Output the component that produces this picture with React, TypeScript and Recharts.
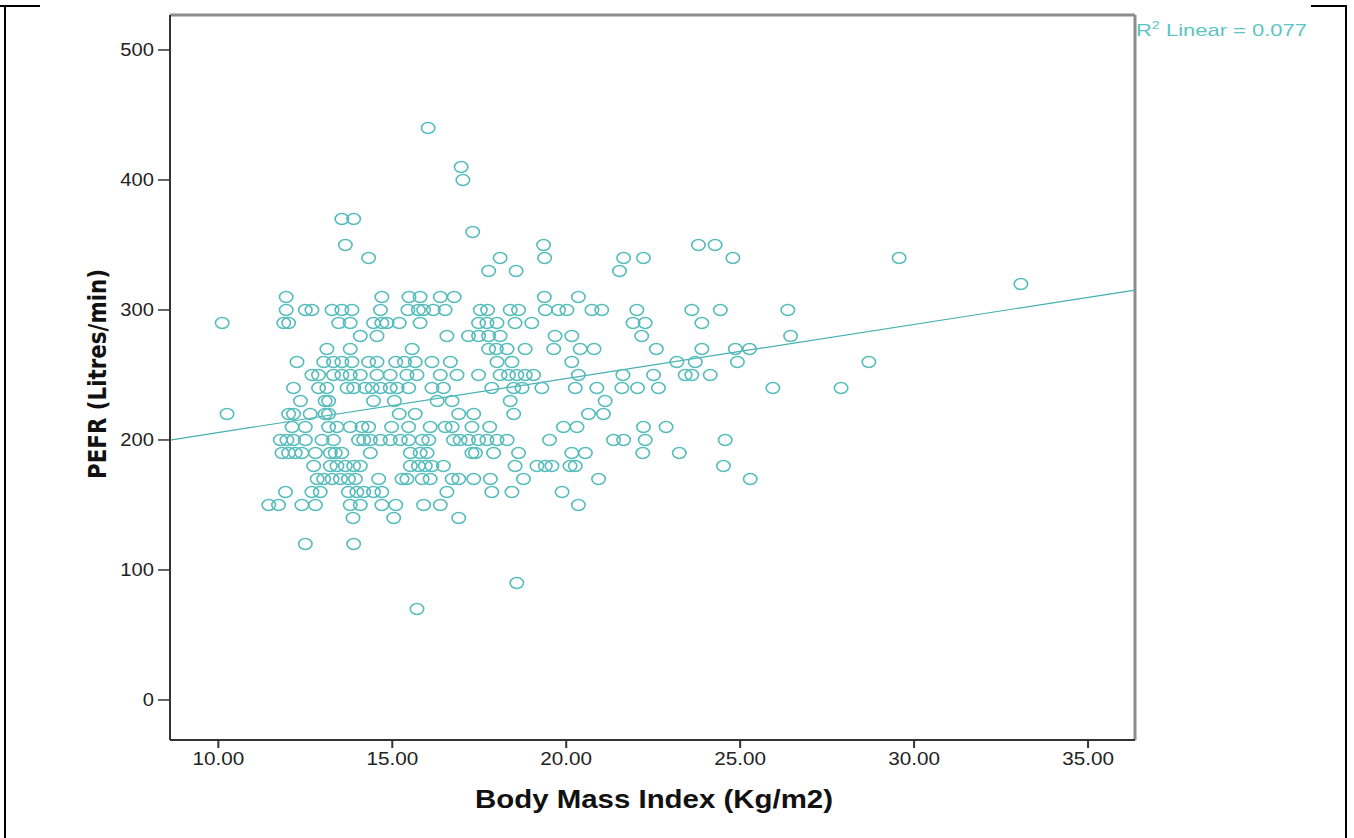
import { ScatterChart, Scatter, XAxis, YAxis, ReferenceLine } from 'recharts';

// PEFR rows (Litres/min) and the BMI readings found on each row
const bmi440 = [16.03];
const bmi410 = [16.98];
const bmi400 = [17.03];
const bmi370 = [13.55, 13.89];
const bmi360 = [17.31];
const bmi350 = [13.65, 19.35, 23.8, 24.28];
const bmi340 = [14.32, 18.1, 19.38, 21.65, 22.22, 24.79, 29.57];
const bmi330 = [17.77, 18.56, 21.53];
const bmi320 = [33.07];
const bmi310 = [11.95, 14.7, 15.48, 15.8, 16.38, 16.78, 19.37, 20.35];
const bmi300 = [
  11.95, 12.5, 12.69, 13.27, 13.55, 13.84, 14.66, 15.45, 15.75, 15.9, 16.18, 16.52, 17.53,
  17.74, 18.39, 18.63, 19.4, 19.78, 20.02, 20.74, 21.02, 22.03, 23.61, 24.43, 26.37,
];
const bmi290 = [
  10.11, 11.88, 12.02, 13.46, 13.79, 14.46, 14.7, 14.85, 15.2, 15.8, 17.48, 17.72, 18.01,
  18.53, 19.01, 21.92, 22.27, 23.9,
];
const bmi280 = [14.08, 14.56, 16.57, 17.19, 17.48, 17.77, 18.1, 19.68, 20.16, 22.17, 26.45];
const bmi270 = [
  13.12, 13.79, 15.57, 17.77, 17.99, 18.3, 18.82, 19.64, 20.4, 20.8, 22.59, 23.9, 24.86, 25.27,
];
const bmi260 = [
  12.26, 13.03, 13.31, 13.55, 13.84, 14.32, 14.56, 15.1, 15.35, 15.66, 16.14, 16.67, 18.01,
  18.44, 20.16, 23.18, 23.71, 24.92, 28.7,
];
const bmi250 = [
  12.69, 12.88, 13.31, 13.55, 13.79, 14.08, 14.56, 14.94, 15.42, 15.71, 16.38, 16.86, 17.48,
  18.1, 18.34, 18.58, 18.82, 19.06, 20.35, 21.63, 22.51, 23.42, 23.61, 24.14,
];
const bmi240 = [
  12.16, 12.88, 13.12, 13.7, 13.89, 14.22, 14.42, 14.66, 14.94, 15.14, 15.47, 16.14, 16.47,
  17.86, 18.49, 18.73, 19.3, 20.26, 20.88, 21.6, 22.05, 22.65, 25.94, 27.9,
];
const bmi230 = [12.36, 13.07, 13.17, 14.46, 15.06, 16.29, 16.72, 18.39, 21.12];
const bmi220 = [
  10.25, 12.02, 12.16, 12.64, 13.07, 13.17, 15.2, 15.66, 16.91, 17.34, 18.49, 20.64, 21.07,
];
const bmi210 = [
  12.12, 12.5, 13.17, 13.41, 13.79, 14.13, 14.32, 14.98, 15.47, 16.09, 16.52, 16.72, 17.29,
  17.8, 19.92, 20.31, 22.22, 22.87,
];
const bmi200 = [
  11.78, 11.97, 12.16, 12.5, 12.98, 13.31, 14.03, 14.18, 14.37, 14.66, 14.94, 15.23, 15.47,
  15.86, 16.05, 16.76, 16.95, 17.19, 17.48, 17.72, 18.01, 18.3, 19.52, 21.36, 21.65, 22.27,
  24.57,
];
const bmi190 = [
  11.83, 12.02, 12.21, 12.4, 12.79, 13.22, 13.36, 13.55, 14.37, 15.52, 15.8, 16.0, 17.29,
  17.39, 17.91, 18.63, 20.16, 20.55, 22.2, 23.25,
];
const bmi180 = [
  12.74, 13.22, 13.41, 13.65, 13.89, 14.08, 15.52, 15.75, 15.95, 16.14, 16.47, 18.53, 19.16,
  19.4, 19.59, 20.11, 20.26, 24.52,
];
const bmi170 = [
  12.84, 13.03, 13.27, 13.51, 13.74, 13.94, 14.61, 15.28, 15.42, 15.86, 16.09, 16.72, 16.91,
  17.34, 17.82, 18.77, 20.93, 25.29,
];
const bmi160 = [11.93, 12.69, 12.93, 13.74, 13.98, 14.18, 14.46, 14.7, 16.57, 17.86, 18.44, 19.88];
const bmi150 = [11.45, 11.73, 12.4, 12.79, 13.79, 14.08, 14.7, 15.1, 15.9, 16.38, 20.35];
const bmi140 = [13.87, 15.04, 16.91];
const bmi120 = [12.5, 13.89];
const bmi90 = [18.58];
const bmi70 = [15.71];

const pefrLevels = [
  440, 410, 400, 370, 360, 350, 340, 330, 320, 310, 300, 290, 280, 270, 260, 250, 240, 230,
  220, 210, 200, 190, 180, 170, 160, 150, 140, 120, 90, 70,
];
const bmiRows = [
  bmi440, bmi410, bmi400, bmi370, bmi360, bmi350, bmi340, bmi330, bmi320, bmi310, bmi300,
  bmi290, bmi280, bmi270, bmi260, bmi250, bmi240, bmi230, bmi220, bmi210, bmi200, bmi190,
  bmi180, bmi170, bmi160, bmi150, bmi140, bmi120, bmi90, bmi70,
];

const xTicks = [10, 15, 20, 25, 30, 35];
const yTicks = [0, 100, 200, 300, 400, 500];
const xDomain: [number, number] = [8.61, 36.35];
const yDomain: [number, number] = [-30.8, 526.9];

// linear fit (R2 = 0.077)
const fitIntercept = 164.1;
const fitSlope = 4.16;
const fitLabel = 'Linear = 0.077';

const points = pefrLevels.flatMap((pefr, i) => bmiRows[i].map((bmi) => ({ bmi, pefr })));
const fitEnds = xDomain.map((x) => ({ x, y: fitIntercept + fitSlope * x }));

const FONT = "'Liberation Sans', Arial, Helvetica, sans-serif";
const TEAL = '#55bcbc';

const Ring = (props: any) => {
  const { cx, cy } = props;
  if (cx == null || cy == null) return null;
  return <ellipse cx={cx} cy={cy} rx={6.7} ry={5.5} fill="none" stroke={TEAL} strokeWidth={1.6} />;
};

const YTick = ({ x, y, payload }: any) => (
  <g transform={`translate(${x},${y}) scale(1.12,1)`}>
    <text x={0} y={0} dy="0.36em" textAnchor="end" fontSize={18} fill="#222" fontFamily={FONT}>
      {payload.value}
    </text>
  </g>
);

const XTick = ({ x, y, payload }: any) => (
  <g transform={`translate(${x},${y}) scale(1.15,1)`}>
    <text x={0} y={0} dy="0.71em" textAnchor="middle" fontSize={18} fill="#222" fontFamily={FONT}>
      {Number(payload.value).toFixed(2)}
    </text>
  </g>
);

export default function App() {
  return (
    <div style={{ position: 'absolute', left: 0, top: 0, width: 1354, height: 838, background: '#fff' }}>
      <ScatterChart width={1354} height={838} margin={{ top: 15, right: 219, bottom: 38, left: 60 }}>
        <XAxis
          type="number"
          dataKey="bmi"
          domain={xDomain}
          ticks={xTicks}
          allowDataOverflow
          height={60}
          tickSize={8}
          tickMargin={4}
          axisLine={{ stroke: '#333', strokeWidth: 2 }}
          tickLine={{ stroke: '#333', strokeWidth: 2 }}
          tick={<XTick />}
        />
        <YAxis
          type="number"
          dataKey="pefr"
          domain={yDomain}
          ticks={yTicks}
          allowDataOverflow
          width={110}
          tickSize={12}
          tickMargin={4}
          axisLine={{ stroke: '#333', strokeWidth: 2 }}
          tickLine={{ stroke: '#333', strokeWidth: 1.5 }}
          tick={<YTick />}
        />
        <ReferenceLine y={yDomain[1]} stroke="#8c8c8c" strokeWidth={3} ifOverflow="visible" />
        <ReferenceLine x={xDomain[1]} stroke="#8c8c8c" strokeWidth={3} ifOverflow="visible" />
        <ReferenceLine segment={fitEnds} stroke="#45b0b0" strokeWidth={1.2} ifOverflow="visible" />
        <Scatter data={points} shape={<Ring />} isAnimationActive={false} />
      </ScatterChart>
      <svg
        width={1354}
        height={838}
        style={{ position: 'absolute', left: 0, top: 0, pointerEvents: 'none' }}
      >
        <line x1={0} y1={6} x2={40} y2={6} stroke="#000" strokeWidth={2} />
        <line x1={1311} y1={6} x2={1347} y2={6} stroke="#000" strokeWidth={2} />
        <line x1={5} y1={5} x2={5} y2={838} stroke="#000" strokeWidth={2} />
        <line x1={1346} y1={5} x2={1346} y2={838} stroke="#000" strokeWidth={2} />
        <text
          x={654}
          y={808}
          textAnchor="middle"
          fontSize={26}
          fontWeight="bold"
          fill="#111"
          fontFamily={FONT}
          textLength={358}
          lengthAdjust="spacingAndGlyphs"
        >
          Body Mass Index (Kg/m2)
        </text>
        <text
          transform="translate(106,374) rotate(-90)"
          textAnchor="middle"
          fontSize={25}
          fontWeight="bold"
          fill="#111"
          fontFamily="'Liberation Sans Narrow', 'DejaVu Sans Condensed', 'Liberation Sans', sans-serif"
          textLength={210}
          lengthAdjust="spacingAndGlyphs"
        >
          PEFR (Litres/min)
        </text>
        <text x={1136} y={36} fontSize={17} fill="#5cc4c4" fontFamily={FONT} textLength={171} lengthAdjust="spacingAndGlyphs">
          R<tspan fontSize={11} dy={-7}>2</tspan>
          <tspan dy={7}> {fitLabel}</tspan>
        </text>
      </svg>
    </div>
  );
}
